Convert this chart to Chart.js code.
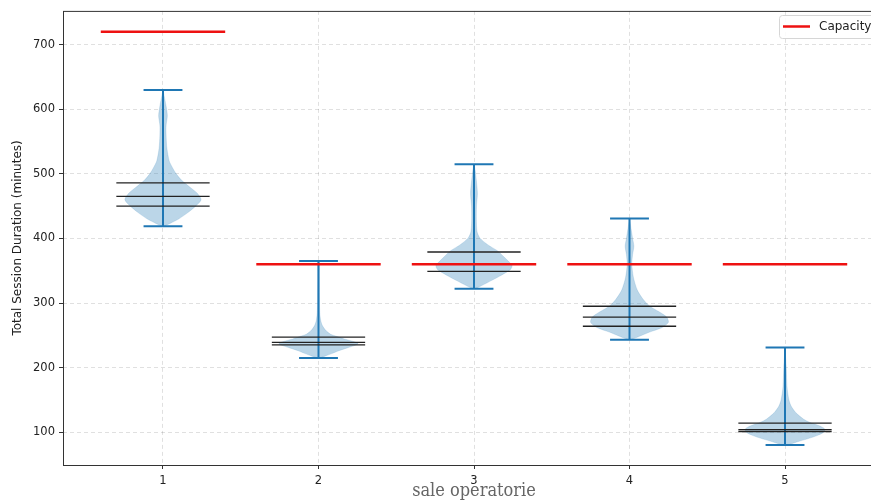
<!DOCTYPE html>
<html>
<head>
<meta charset="utf-8">
<script src="https://cdn.jsdelivr.net/npm/chart.js@4.4.0/dist/chart.umd.min.js"></script>
<style>
    html, body { margin: 0; padding: 0; overflow: hidden; background: #fff; }
    #wrap { width: 890px; height: 501px; }
</style>
</head>
<body>
<div id="wrap"><canvas id="chart" width="890" height="501"></canvas></div>
<script>
// operating rooms and their daily capacity
const rooms = [1, 2, 3, 4, 5];
const capacity = [720, 360, 360, 360, 360];
const minValues = [419, 215, 322, 243, 80];
const maxValues = [630, 365, 515, 431, 231];
const quartileLow = [450, 235, 349, 264, 101];
const medians = [465, 239, 360, 278, 104];
const quartileHigh = [486, 247, 379, 295, 114];
const yTicks = [100, 200, 300, 400, 500, 600, 700];

// violin outlines: duration and half width
const violin1Values = [419, 425, 430, 440, 450, 460, 470, 480, 490, 500, 510, 520, 540, 560, 575, 590, 605, 620, 630];
const violin1Widths = [0.01, 0.06, 0.10, 0.16, 0.21, 0.245, 0.22, 0.17, 0.12, 0.085, 0.06, 0.04, 0.025, 0.02, 0.02, 0.028, 0.02, 0.008, 0];
const violin2Values = [215, 218, 222, 226, 230, 234, 237, 240, 244, 248, 252, 258, 265, 272, 285, 310, 340, 365];
const violin2Widths = [0.01, 0.045, 0.09, 0.13, 0.18, 0.23, 0.255, 0.23, 0.17, 0.12, 0.075, 0.045, 0.025, 0.015, 0.008, 0.006, 0.005, 0.004];
const violin3Values = [322, 327, 337, 345, 352, 358, 365, 372, 381, 390, 400, 410, 430, 450, 470, 490, 505, 515];
const violin3Widths = [0.01, 0.05, 0.13, 0.19, 0.235, 0.245, 0.22, 0.19, 0.15, 0.09, 0.04, 0.02, 0.015, 0.016, 0.022, 0.015, 0.008, 0];
const violin4Values = [243, 248, 255, 262, 270, 278, 285, 295, 305, 320, 340, 360, 375, 388, 400, 415, 431];
const violin4Widths = [0.01, 0.06, 0.13, 0.21, 0.25, 0.24, 0.2, 0.13, 0.09, 0.05, 0.025, 0.015, 0.02, 0.028, 0.02, 0.01, 0];
const violin5Values = [80, 85, 90, 95, 100, 105, 110, 115, 120, 130, 140, 150, 170, 200, 231];
const violin5Widths = [0.02, 0.08, 0.15, 0.21, 0.25, 0.255, 0.22, 0.16, 0.12, 0.07, 0.04, 0.025, 0.013, 0.008, 0];

const violinValues = [violin1Values, violin2Values, violin3Values, violin4Values, violin5Values];
const violinWidths = [violin1Widths, violin2Widths, violin3Widths, violin4Widths, violin5Widths];

const blue = '#1f77b4';

function segment(x0, x1, y0, y1, color, width, order, label) {
    return {
        type: 'scatter',
        label: label || '',
        data: [{ x: x0, y: y0 }, { x: x1, y: y1 }],
        showLine: true,
        borderColor: color,
        backgroundColor: color,
        borderWidth: width,
        pointRadius: 0,
        pointHoverRadius: 0,
        fill: false,
        order: order
    };
}

const datasets = [];

rooms.forEach((room, i) => {
    // capacity line on top
    datasets.push(segment(room - 0.4, room + 0.4, capacity[i], capacity[i], '#ee1111', 2.5, 0, i === 0 ? 'Capacity' : ''));

    // quantile lines
    [quartileLow[i], medians[i], quartileHigh[i]].forEach(q => {
        datasets.push(segment(room - 0.3, room + 0.3, q, q, '#222', 1.3, 1));
    });

    // whisker and caps
    datasets.push(segment(room, room, minValues[i], maxValues[i], blue, 2, 2));
    datasets.push(segment(room - 0.125, room + 0.125, minValues[i], minValues[i], blue, 2, 2));
    datasets.push(segment(room - 0.125, room + 0.125, maxValues[i], maxValues[i], blue, 2, 2));

    // violin body
    const vals = violinValues[i];
    const wids = violinWidths[i];
    const outline = [];
    vals.forEach((v, k) => outline.push({ x: room + wids[k], y: v }));
    for (let k = vals.length - 1; k >= 0; k--) outline.push({ x: room - wids[k], y: vals[k] });
    datasets.push({
        type: 'scatter',
        label: '',
        data: outline,
        showLine: true,
        borderColor: 'rgba(31,119,180,0.3)',
        borderWidth: 0.5,
        backgroundColor: 'rgba(31,119,180,0.3)',
        pointRadius: 0,
        pointHoverRadius: 0,
        tension: 0.25,
        fill: 'shape',
        order: 3
    });
});

const framePlugin = {
    id: 'frame',
    afterDraw(chart) {
        const { ctx, chartArea } = chart;
        ctx.save();
        ctx.strokeStyle = '#333';
        ctx.lineWidth = 1;
        ctx.strokeRect(chartArea.left + 0.5, chartArea.top + 0.5, chartArea.right - chartArea.left, chartArea.bottom - chartArea.top);
        ctx.restore();
    }
};

const legendPlugin = {
    id: 'capLegend',
    afterDraw(chart) {
        const { ctx } = chart;
        const x = 779, y = 15, w = 100, h = 23;
        ctx.save();
        ctx.fillStyle = 'rgba(255,255,255,0.85)';
        ctx.strokeStyle = '#d6d6d6';
        ctx.lineWidth = 1;
        ctx.beginPath();
        ctx.roundRect(x + 0.5, y + 0.5, w, h, 3);
        ctx.fill();
        ctx.stroke();
        ctx.strokeStyle = '#ee1111';
        ctx.lineWidth = 2.5;
        ctx.beginPath();
        ctx.moveTo(783, 26.5);
        ctx.lineTo(810, 26.5);
        ctx.stroke();
        ctx.fillStyle = '#222';
        ctx.font = '12px "DejaVu Sans"';
        ctx.textBaseline = 'middle';
        ctx.fillText(datasets[0].label, 819, 27);
        ctx.restore();
    }
};

new Chart(document.getElementById('chart'), {
    type: 'scatter',
    data: { datasets: datasets },
    options: {
        responsive: false,
        animation: false,
        devicePixelRatio: 1,
        layout: { padding: { left: 0, top: 9, right: 5, bottom: 0 } },
        plugins: {
            legend: { display: false },
            tooltip: { enabled: false }
        },
        scales: {
            x: {
                type: 'linear',
                min: 0.357,
                max: 5.643,
                afterBuildTicks: scale => { scale.ticks = rooms.map(v => ({ value: v })); },
                afterFit: scale => { scale.height = 36; },
                ticks: {
                    color: '#222',
                    font: { family: 'DejaVu Sans', size: 11.5 },
                    padding: 5,
                    callback: v => String(v)
                },
                grid: {
                    color: 'rgba(0,0,0,0.12)',
                    tickColor: '#333',
                    tickLength: 4,
                    tickBorderDash: [],
                    lineWidth: 1
                },
                border: { display: false, dash: [4, 3] },
                title: {
                    display: true,
                    text: 'sale operatorie',
                    color: '#666',
                    font: { family: '"DejaVu Serif Condensed", "DejaVu Serif", serif', size: 18 },
                    padding: { top: 0, bottom: -1 }
                }
            },
            y: {
                type: 'linear',
                min: 49.1,
                max: 752.4,
                afterBuildTicks: scale => { scale.ticks = yTicks.map(v => ({ value: v })); },
                afterFit: scale => { scale.width = 63; },
                ticks: {
                    color: '#222',
                    font: { family: 'DejaVu Sans', size: 11.5 },
                    padding: 4
                },
                grid: {
                    color: 'rgba(0,0,0,0.12)',
                    tickColor: '#333',
                    tickLength: 4,
                    tickBorderDash: [],
                    lineWidth: 1
                },
                border: { display: false, dash: [4, 3] },
                title: {
                    display: true,
                    text: 'Total Session Duration (minutes)',
                    color: '#222',
                    font: { family: 'DejaVu Sans', size: 12 },
                    padding: { top: 11, bottom: 0 }
                }
            }
        }
    },
    plugins: [framePlugin, legendPlugin]
});
</script>
</body>
</html>
